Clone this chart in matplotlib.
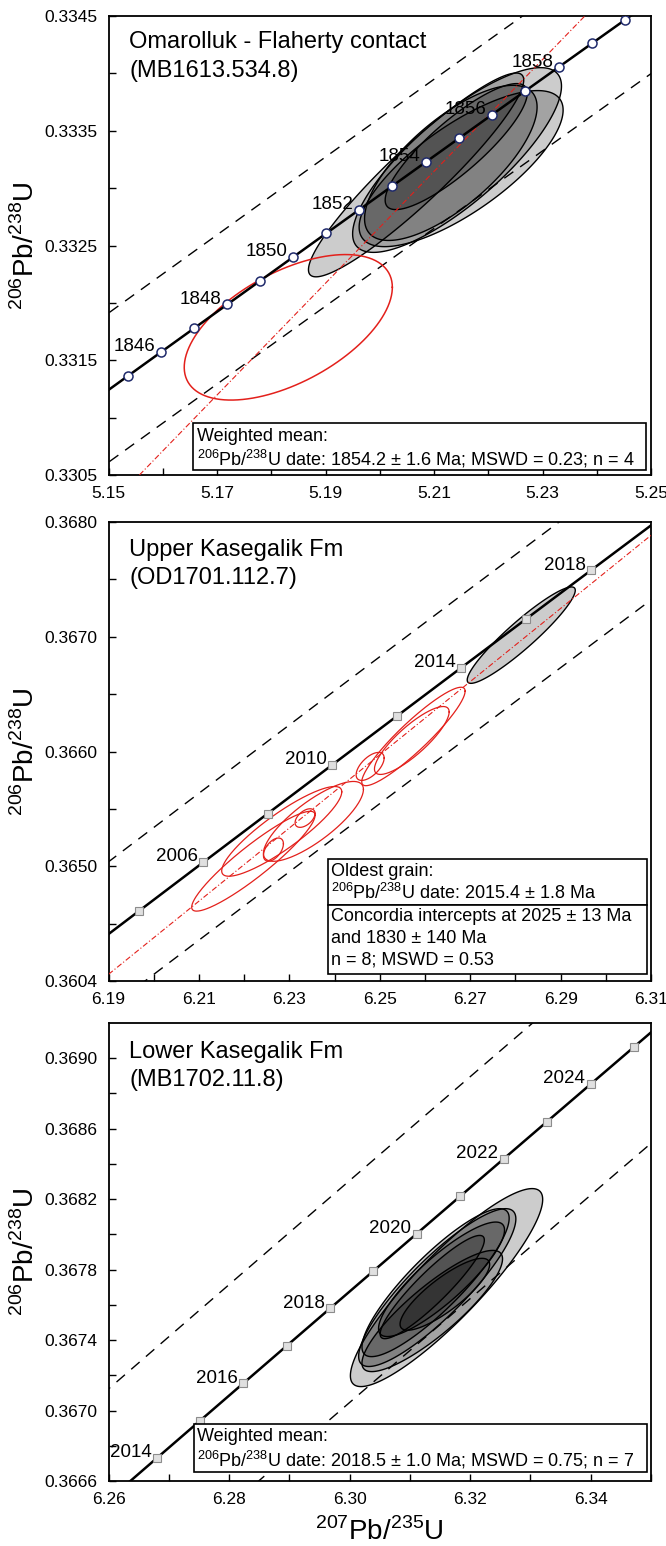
import numpy as np
import matplotlib
matplotlib.use('Agg')
import matplotlib.pyplot as plt
from matplotlib.patches import Rectangle

plt.rcParams['font.family'] = ['Liberation Sans', 'DejaVu Sans']
plt.rcParams['mathtext.fontset'] = 'custom'
plt.rcParams['mathtext.rm'] = 'Liberation Sans'

# U decay constants (1/Ma) for the concordia reference curve
LAM238 = 1.55125e-4
LAM235 = 9.8485e-4

RED = '#e3201b'
LAB_Y = r'$^{\mathregular{206}}$Pb/$^{\mathregular{238}}$U'
LAB_X = r'$^{\mathregular{207}}$Pb/$^{\mathregular{235}}$U'

# ---------------- panel 1 : Omarolluk - Flaherty contact ----------------
p1_ages = list(range(1840, 1866))
p1_label_ages = [1846, 1848, 1850, 1852, 1854, 1856, 1858]
p1_env = [0.00067, -0.00063]
p1_cx = [5.2067, 5.21425, 5.2131, 5.2141, 5.2150]
p1_cy = [0.333115, 0.333245, 0.333220, 0.333362, 0.333170]
p1_sx = [0.01984, 0.01925, 0.0159, 0.0131, 0.0188]
p1_sy = [0.000888, 0.000805, 0.000676, 0.000549, 0.00068]
p1_rho = [0.93, 0.80, 0.72, 0.85, 0.75]
p1_red_cx = [5.18314]
p1_red_cy = [0.331787]
p1_red_sx = [0.01918]
p1_red_sy = [0.000634]
p1_red_rho = [0.55]
p1_line_x = [5.1557, 5.2378]
p1_line_y = [0.3305, 0.3345]
p1_xticks = [5.15, 5.17, 5.19, 5.21, 5.23, 5.25]
p1_yticks = [0.3305, 0.3315, 0.3325, 0.3335, 0.3345]
p1_ylabels = ['0.3305', '0.3315', '0.3325', '0.3335', '0.3345']

# ---------------- panel 2 : Upper Kasegalik Fm ----------------
p2_ages = list(range(1998, 2026, 2))
p2_label_ages = [2006, 2010, 2014, 2018]
p2_env = [0.00063, -0.00065]
p2_cx = [6.2813]
p2_cy = [0.367014]
p2_sx = [0.01195]
p2_sy = [0.00042]
p2_rho = [0.93]
p2_red_cx = [6.22205, 6.22832, 6.23533, 6.22648, 6.23348, 6.24787, 6.25745, 6.25709]
p2_red_cy = [0.365044, 0.365304, 0.365391, 0.365145, 0.365420, 0.365870, 0.366131, 0.366096]
p2_red_sx = [0.01365, 0.01328, 0.01106, 0.00221, 0.00221, 0.0031, 0.01143, 0.00826]
p2_red_sy = [0.000435, 0.000391, 0.000348, 0.000101, 0.000081, 0.000122, 0.000429, 0.000296]
p2_red_rho = [0.92, 0.88, 0.80, 0.5, 0.5, 0.6, 0.92, 0.84]
p2_line_x = [6.19, 6.31]
p2_line_y = [0.364058, 0.367884]
p2_xticks = [6.19, 6.21, 6.23, 6.25, 6.27, 6.29, 6.31]
p2_yticks = [0.3640, 0.3650, 0.3660, 0.3670, 0.3680]
p2_ylabels = ['0.3604', '0.3650', '0.3660', '0.3670', '0.3680']

# ---------------- panel 3 : Lower Kasegalik Fm ----------------
p3_ages = list(range(2010, 2029))
p3_label_ages = [2014, 2016, 2018, 2020, 2022, 2024]
p3_env = [0.00063, -0.00063]
p3_cx = [6.31608, 6.31454, 6.31426, 6.31525, 6.31371, 6.31371, 6.31580]
p3_cy = [0.367698, 0.367698, 0.367726, 0.367745, 0.367701, 0.367565, 0.367660]
p3_sx = [0.01595, 0.01304, 0.01221, 0.01045, 0.00864, 0.01166, 0.00743]
p3_sy = [0.000562, 0.000448, 0.000420, 0.000325, 0.000293, 0.000344, 0.000204]
p3_rho = [0.89, 0.87, 0.87, 0.86, 0.91, 0.86, 0.83]
p3_xticks = [6.26, 6.28, 6.30, 6.32, 6.34]
p3_yticks = [0.3666, 0.3670, 0.3674, 0.3678, 0.3682, 0.3686, 0.3690]
p3_ylabels = ['0.3666', '0.3670', '0.3674', '0.3678', '0.3682', '0.3686', '0.3690']


def concordia(t):
    t = np.asarray(t, float)
    return np.exp(LAM235 * t) - 1, np.exp(LAM238 * t) - 1


def ellipse(cx, cy, sx, sy, rho, n=240):
    a = np.linspace(0, 2 * np.pi, n)
    x = cx + sx * np.cos(a)
    y = cy + sy * (rho * np.cos(a) + np.sqrt(1 - rho ** 2) * np.sin(a))
    return x, y


def setup(ax, xlim, ylim, xticks, xminor, yticks, ylabels, yminor):
    ax.set_xlim(xlim)
    ax.set_ylim(ylim)
    ax.set_xticks(xticks)
    ax.set_xticklabels(['%.2f' % v for v in xticks])
    ax.set_xticks(xminor, minor=True)
    ax.set_yticks(yticks)
    ax.set_yticklabels(ylabels)
    ax.set_yticks(yminor, minor=True)
    ax.tick_params(which='both', direction='in', length=5, width=1,
                   top=False, right=False, labelsize=12.5)
    ax.tick_params(axis='y', pad=8)
    ax.tick_params(axis='x', pad=8)
    for s in ax.spines.values():
        s.set_linewidth(1.3)
    ax.text(-0.152, 0.5, LAB_Y, transform=ax.transAxes, rotation=90,
            ha='center', va='center', fontsize=20)


def draw_concordia(ax, ages, label_ages, env, circles):
    cx, cy = concordia(ages)
    for off in env:
        ax.plot(cx, cy + off, color='black', lw=1.0, dashes=(8, 6), zorder=1)
    if circles:
        ax.plot(cx, cy, '-o', color='black', lw=1.8, ms=6.5, mfc='white',
                mec='#1f2a6b', mew=1.1, zorder=4)
    else:
        ax.plot(cx, cy, '-s', color='black', lw=1.8, ms=5.5, mfc='#e0e0e0',
                mec='#8c8c8c', mew=0.8, zorder=4)
    lx, ly = concordia(label_ages)
    for a, x, y in zip(label_ages, lx, ly):
        ax.annotate(str(a), (x, y), xytext=(-4, 0.5), textcoords='offset points',
                    ha='right', va='baseline', fontsize=13.5, zorder=6)


def draw_ellipses(ax, cxs, cys, sxs, sys_, rhos):
    for cx, cy, sx, sy, r in zip(cxs, cys, sxs, sys_, rhos):
        x, y = ellipse(cx, cy, sx, sy, r)
        ax.fill(x, y, facecolor=(0, 0, 0, 0.2), edgecolor='black', lw=1.0, zorder=2)


def draw_red(ax, cxs, cys, sxs, sys_, rhos, lw):
    for cx, cy, sx, sy, r in zip(cxs, cys, sxs, sys_, rhos):
        x, y = ellipse(cx, cy, sx, sy, r)
        ax.plot(x, y, color=RED, lw=lw, zorder=3)


def title(ax, l1, l2, y1, y2):
    ax.text(0.038, y1, l1, transform=ax.transAxes, fontsize=17, va='center', zorder=6)
    ax.text(0.038, y2, l2, transform=ax.transAxes, fontsize=17, va='center', zorder=6)


def box(ax, x0, x1, y0, y1):
    ax.add_patch(Rectangle((x0, y0), x1 - x0, y1 - y0, transform=ax.transAxes,
                           facecolor='white', edgecolor='black', lw=1.2, zorder=5))


fig = plt.figure(figsize=(6.66, 15.46), dpi=100)
W, H = 666.0, 1546.0
left, width = 108.5 / W, 542.5 / W
panels_px = [(16, 475), (522, 981), (1023, 1481)]
axs = [fig.add_axes([left, 1 - b / H, width, (b - t) / H]) for t, b in panels_px]

# panel 1
ax = axs[0]
setup(ax, (5.15, 5.25), (0.3305, 0.3345), p1_xticks, np.arange(5.16, 5.25, 0.02),
      p1_yticks, p1_ylabels, np.arange(0.3310, 0.3345, 0.001))
draw_concordia(ax, p1_ages, p1_label_ages, p1_env, True)
draw_ellipses(ax, p1_cx, p1_cy, p1_sx, p1_sy, p1_rho)
draw_red(ax, p1_red_cx, p1_red_cy, p1_red_sx, p1_red_sy, p1_red_rho, 1.1)
ax.plot(p1_line_x, p1_line_y, color=RED, lw=0.8, dashes=(5, 2, 1, 2), zorder=3)
title(ax, 'Omarolluk - Flaherty contact', '(MB1613.534.8)', 0.943, 0.880)
box(ax, 0.156, 0.990, 0.011, 0.113)
ax.text(0.163, 0.083, 'Weighted mean:', transform=ax.transAxes, fontsize=13,
        va='center', zorder=6)
ax.text(0.163, 0.036, LAB_Y + ' date: 1854.2 ± 1.6 Ma; MSWD = 0.23; n = 4',
        transform=ax.transAxes, fontsize=13, va='center', zorder=6)

# panel 2
ax = axs[1]
setup(ax, (6.19, 6.31), (0.3640, 0.3680), p2_xticks, np.arange(6.20, 6.31, 0.02),
      p2_yticks, p2_ylabels, np.arange(0.3645, 0.3680, 0.001))
draw_concordia(ax, p2_ages, p2_label_ages, p2_env, False)
draw_ellipses(ax, p2_cx, p2_cy, p2_sx, p2_sy, p2_rho)
draw_red(ax, p2_red_cx, p2_red_cy, p2_red_sx, p2_red_sy, p2_red_rho, 0.9)
ax.plot(p2_line_x, p2_line_y, color=RED, lw=0.8, dashes=(5, 2, 1, 2), zorder=3)
title(ax, 'Upper Kasegalik Fm', '(OD1701.112.7)', 0.938, 0.877)
box(ax, 0.405, 0.993, 0.166, 0.265)
box(ax, 0.405, 0.993, 0.015, 0.166)
for yy, s in [(0.238, 'Oldest grain:'),
              (0.192, LAB_Y + ' date: 2015.4 ± 1.8 Ma'),
              (0.141, 'Concordia intercepts at 2025 ± 13 Ma'),
              (0.093, 'and 1830 ± 140 Ma'),
              (0.046, 'n = 8; MSWD = 0.53')]:
    ax.text(0.411, yy, s, transform=ax.transAxes, fontsize=13, va='center', zorder=6)

# panel 3
ax = axs[2]
setup(ax, (6.26, 6.35), (0.3666, 0.3692), p3_xticks, np.arange(6.27, 6.35, 0.02),
      p3_yticks, p3_ylabels, np.arange(0.3668, 0.3692, 0.0004))
draw_concordia(ax, p3_ages, p3_label_ages, p3_env, False)
draw_ellipses(ax, p3_cx, p3_cy, p3_sx, p3_sy, p3_rho)
title(ax, 'Lower Kasegalik Fm', '(MB1702.11.8)', 0.937, 0.875)
box(ax, 0.157, 0.992, 0.020, 0.124)
ax.text(0.163, 0.097, 'Weighted mean:', transform=ax.transAxes, fontsize=13,
        va='center', zorder=6)
ax.text(0.163, 0.047, LAB_Y + ' date: 2018.5 ± 1.0 Ma; MSWD = 0.75; n = 7',
        transform=ax.transAxes, fontsize=13, va='center', zorder=6)
ax.text(0.5, -0.111, LAB_X, transform=ax.transAxes, ha='center', va='center',
        fontsize=20)

fig.savefig('out.png', dpi=100)
